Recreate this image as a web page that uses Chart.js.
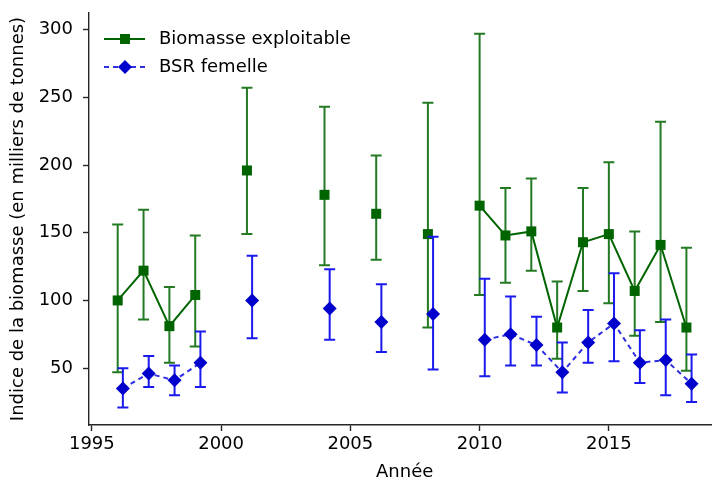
<!DOCTYPE html>
<html>
<head>
<meta charset="utf-8">
<script src="https://cdn.jsdelivr.net/npm/chart.js@4"></script>
<style>
  html, body { margin: 0; padding: 0; background: #fff; overflow: hidden; }
  #wrap { position: relative; width: 712px; height: 481px; }
</style>
</head>
<body>
<div id="wrap"><canvas id="c" width="712" height="481"></canvas></div>
<script>
// ---- data ----
const years = [1996, 1997, 1998, 1999, 2000, 2001, 2002, 2003, 2004, 2005, 2006, 2007, 2008, 2009, 2010, 2011, 2012, 2013, 2014, 2015, 2016, 2017, 2018];
const biomasse     = [100, 122, 81, 104, null, 196, null, null, 178, null, 164, null, 149, null, 170, 148, 151, 80, 143, 149, 107, 141, 80];
const biomasseLow  = [47, 86, 54, 66, null, 149, null, null, 126, null, 130, null, 80, null, 104, 113, 122, 57, 107, 98, 74, 84, 48];
const biomasseHigh = [156, 167, 110, 148, null, 257, null, null, 243, null, 207, null, 246, null, 297, 183, 190, 114, 183, 202, 151, 232, 139];
const bsr     = [35, 46, 41, 54, null, 100, null, null, 94, null, 84, null, 90, null, 71, 75, 67, 47, 69, 83, 54, 56, 38.5];
const bsrLow  = [21, 36, 30, 36, null, 72, null, null, 71, null, 62, null, 49, null, 44, 52, 52, 32, 54, 55, 39, 30, 25];
const bsrHigh = [50, 59, 52, 77, null, 133, null, null, 123, null, 112, null, 147, null, 116, 103, 88, 69, 93, 120, 78, 86, 60];
const xTicks = [1995, 2000, 2005, 2010, 2015];
const yTicks = [50, 100, 150, 200, 250, 300];
const labels = { series1: 'Biomasse exploitable', series2: 'BSR femelle', x: 'Année', y: 'Indice de la biomasse (en milliers de tonnes)' };

// ---- styles ----
const BSR_OFFSET = 0.2;
const X_MIN = 1994.89, X_MAX_FULL = 2019.31, X_MAX_VISIBLE = 2018.99;
const GREEN = '#006400', GREEN_ERR = '#237a23';
const BLUE = '#0000cc', BLUE_ERR = '#1a1aee', BLUE_LINE = '#2f2fe0';
const FONT = '"DejaVu Sans", sans-serif';

const greenData = years.map((yr, i) => ({ x: yr, y: biomasse[i], lo: biomasseLow[i], hi: biomasseHigh[i] }));
const blueData = years.map((yr, i) => ({ x: yr + BSR_OFFSET, y: bsr[i], lo: bsrLow[i], hi: bsrHigh[i] }));

const errColors = [GREEN_ERR, BLUE_ERR];

const errorBars = {
  id: 'errorBars',
  beforeDatasetDraw(chart, args) {
    const ctx = chart.ctx;
    const xs = chart.scales.x, ys = chart.scales.y;
    const ds = chart.data.datasets[args.index];
    ctx.save();
    ctx.strokeStyle = errColors[args.index];
    ctx.lineWidth = 2;
    ds.data.forEach(p => {
      if (p.y === null || p.lo === null) return;
      const px = xs.getPixelForValue(p.x);
      const t = ys.getPixelForValue(p.hi);
      const b = ys.getPixelForValue(p.lo);
      ctx.beginPath();
      ctx.moveTo(px, t); ctx.lineTo(px, b);
      ctx.moveTo(px - 5.5, t); ctx.lineTo(px + 5.5, t);
      ctx.moveTo(px - 5.5, b); ctx.lineTo(px + 5.5, b);
      ctx.stroke();
    });
    ctx.restore();
  }
};

const extras = {
  id: 'extras',
  afterDraw(chart) {
    const ctx = chart.ctx;
    const ca = chart.chartArea;
    const xs = chart.scales.x;
    ctx.save();
    // legend
    ctx.lineWidth = 2;
    ctx.strokeStyle = GREEN;
    ctx.beginPath(); ctx.moveTo(104, 39); ctx.lineTo(145, 39); ctx.stroke();
    ctx.fillStyle = GREEN;
    ctx.fillRect(120, 34, 10, 10);
    ctx.strokeStyle = BLUE_LINE;
    ctx.setLineDash([5, 4]);
    ctx.beginPath(); ctx.moveTo(104, 67); ctx.lineTo(145, 67); ctx.stroke();
    ctx.setLineDash([]);
    ctx.fillStyle = BLUE;
    ctx.beginPath();
    ctx.moveTo(125, 60); ctx.lineTo(132, 67); ctx.lineTo(125, 74); ctx.lineTo(118, 67); ctx.closePath();
    ctx.fill();
    ctx.fillStyle = '#000';
    ctx.font = '18px ' + FONT;
    ctx.textBaseline = 'middle';
    ctx.textAlign = 'left';
    ctx.fillText(labels.series1, 159, 39.5);
    ctx.fillText(labels.series2, 159, 67.5);
    // axis titles
    ctx.textAlign = 'center';
    ctx.fillText(labels.x, xs.getPixelForValue((X_MIN + X_MAX_FULL) / 2), 472);
    ctx.translate(18, (ca.top + ca.bottom) / 2);
    ctx.rotate(-Math.PI / 2);
    ctx.fillText(labels.y, 0, 0);
    ctx.restore();
  }
};

const axisColor = '#262626';
const zeroPad = s => { s.paddingTop = 0; s.paddingBottom = 0; s.paddingLeft = 0; s.paddingRight = 0; };

new Chart(document.getElementById('c'), {
  type: 'line',
  data: {
    datasets: [
      {
        label: labels.series1,
        data: greenData,
        borderColor: GREEN,
        backgroundColor: GREEN,
        borderWidth: 2,
        pointStyle: 'rect',
        pointRadius: 7.07,
        pointBorderWidth: 0,
        pointBackgroundColor: GREEN,
        spanGaps: false,
        clip: false,
        order: 2
      },
      {
        label: labels.series2,
        data: blueData,
        borderColor: BLUE_LINE,
        backgroundColor: BLUE,
        borderWidth: 2,
        borderDash: [5, 4],
        pointStyle: 'rectRot',
        pointRadius: 7,
        pointBorderWidth: 0,
        pointBackgroundColor: BLUE,
        spanGaps: false,
        clip: false,
        order: 1
      }
    ]
  },
  options: {
    responsive: false,
    animation: false,
    events: [],
    layout: { autoPadding: false, padding: { left: 0, top: 13, right: 0, bottom: 0 } },
    plugins: { legend: { display: false }, tooltip: { enabled: false } },
    scales: {
      x: {
        type: 'linear',
        min: X_MIN,
        max: X_MAX_VISIBLE,
        afterBuildTicks: s => { s.ticks = xTicks.map(v => ({ value: v })); },
        afterFit: s => { s.height = 56; zeroPad(s); },
        grid: { display: true, drawOnChartArea: false, drawTicks: true, tickLength: 6, tickWidth: 1.4, tickColor: axisColor },
        border: { display: true, color: axisColor, width: 1.4 },
        ticks: { color: '#000', font: { family: FONT, size: 18 }, padding: 3, maxRotation: 0, autoSkip: false, callback: v => String(v) }
      },
      y: {
        type: 'linear',
        min: 8,
        max: 312.3,
        afterBuildTicks: s => { s.ticks = yTicks.map(v => ({ value: v })); },
        afterFit: s => { s.width = 89; zeroPad(s); },
        grid: { display: true, drawOnChartArea: false, drawTicks: true, tickLength: 6, tickWidth: 1.4, tickColor: axisColor },
        border: { display: true, color: axisColor, width: 1.4 },
        ticks: { color: '#000', font: { family: FONT, size: 18 }, padding: 10, autoSkip: false, callback: v => String(v) }
      }
    }
  },
  plugins: [errorBars, extras]
});
</script>
</body>
</html>
